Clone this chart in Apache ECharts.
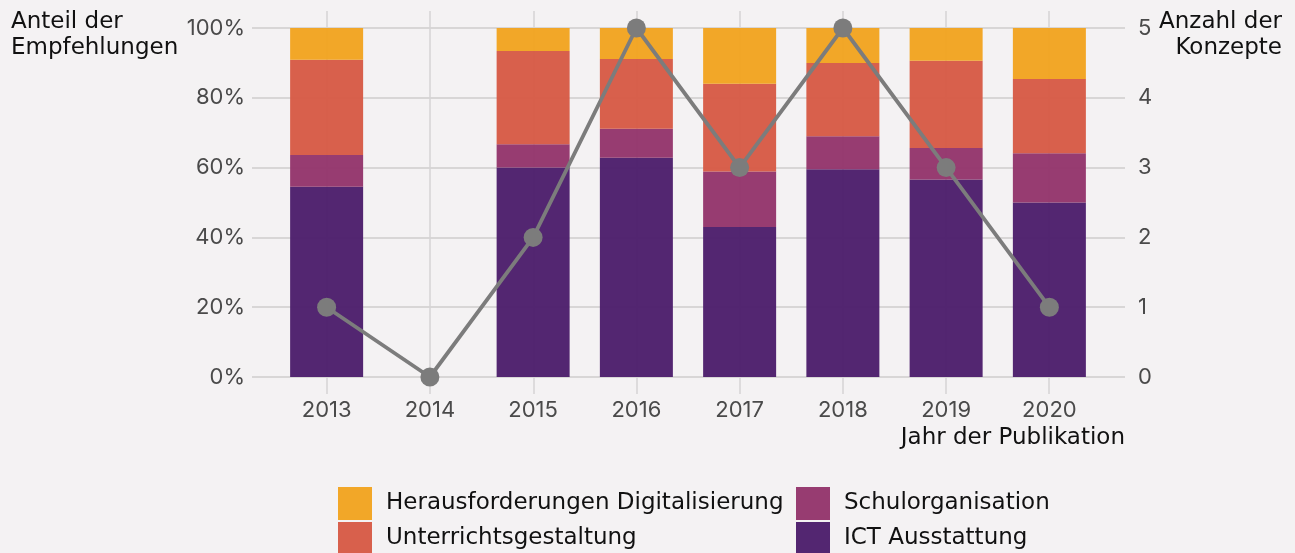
<!DOCTYPE html>
<html><head><meta charset="utf-8">
<script src="https://cdn.jsdelivr.net/npm/echarts@6/dist/echarts.min.js"></script>
<style>html,body{margin:0;padding:0;background:#F4F2F3}#c{width:1295px;height:553px}</style>
</head><body><div id="c"></div>
<script>
const years = ['2013', '2014', '2015', '2016', '2017', '2018', '2019', '2020'];
const ictAusstattung = [54.5, 0, 60, 62.8, 43, 59.5, 56.6, 50];
const schulorganisation = [9.1, 0, 6.7, 8.3, 15.9, 9.5, 9.0, 14.1];
const unterrichtsgestaltung = [27.3, 0, 26.7, 20, 25.1, 21, 25.0, 21.3];
const herausforderungen = [9.1, 0, 6.6, 8.9, 16, 10, 9.4, 14.6];
const anzahlKonzepte = [1, 0, 2, 5, 3, 5, 3, 1];

const NUMFONT = 'Inter';
const TXTFONT = 'DejaVu Sans';
const TICK = '#4a4a4a';
const GRIDC = '#cfcccd';

const chart = echarts.init(document.getElementById('c'), null, {renderer: 'canvas'});
const barBase = {type: 'bar', xAxisIndex: 1, yAxisIndex: 2, stack: 'a', barWidth: 73};
const legendBase = {orient: 'vertical', top: 487, height: 90, padding: 0, itemWidth: 34, itemHeight: 33,
  itemGap: 2, icon: 'rect', textStyle: {fontSize: 23, color: '#111', padding: [0, 0, 0, 9], fontFamily: TXTFONT}};
const titleStyle = {fontSize: 23, fill: '#111', fontFamily: TXTFONT};
chart.setOption({
  backgroundColor: '#F4F2F3',
  animation: false,
  textStyle: {fontFamily: NUMFONT},
  grid: [
    {left: 252, right: 170, top: 28, bottom: 176},
    {left: 275, right: 194, top: 28, bottom: 176},
    {left: 327, right: 246, top: 11, bottom: 159}
  ],
  xAxis: [
    {gridIndex: 0, type: 'category', data: years, show: false},
    {gridIndex: 1, type: 'category', data: years,
      axisLine: {show: false}, axisTick: {show: false}, splitLine: {show: false},
      axisLabel: {fontSize: 22, color: TICK, margin: 22, fontFamily: NUMFONT}},
    {gridIndex: 2, type: 'category', data: years, boundaryGap: false,
      axisLine: {show: false}, axisTick: {show: false}, axisLabel: {show: false},
      splitLine: {show: true, lineStyle: {color: '#d6d3d4', width: 1.5}}}
  ],
  yAxis: [
    {gridIndex: 0, type: 'value', min: 0, max: 100, interval: 20, position: 'left',
      axisLine: {show: false}, axisTick: {show: false},
      axisLabel: {formatter: '{value}%', fontSize: 22, color: TICK, margin: 7, fontFamily: NUMFONT},
      splitLine: {show: true, lineStyle: {color: GRIDC, width: 1.5}}},
    {gridIndex: 0, type: 'value', min: 0, max: 5, interval: 1, position: 'right',
      axisLine: {show: false}, axisTick: {show: false},
      axisLabel: {fontSize: 22, color: TICK, margin: 13, fontFamily: NUMFONT},
      splitLine: {show: false}},
    {gridIndex: 1, type: 'value', min: 0, max: 100, show: false},
    {gridIndex: 1, type: 'value', min: 0, max: 5, show: false, position: 'right'},
    {gridIndex: 2, type: 'value', show: false}
  ],
  legend: [
    Object.assign({}, legendBase, {data: ['Herausforderungen Digitalisierung', 'Unterrichtsgestaltung'], left: 338}),
    Object.assign({}, legendBase, {data: ['Schulorganisation', 'ICT Ausstattung'], left: 796})
  ],
  graphic: [
    {type: 'text', left: 11, top: 11, style: Object.assign({text: 'Anteil der'}, titleStyle)},
    {type: 'text', left: 11, top: 37, style: Object.assign({text: 'Empfehlungen'}, titleStyle)},
    {type: 'text', right: 13, top: 11, style: Object.assign({text: 'Anzahl der'}, titleStyle)},
    {type: 'text', right: 13, top: 37, style: Object.assign({text: 'Konzepte'}, titleStyle)},
    {type: 'text', right: 170, top: 427, style: Object.assign({text: 'Jahr der Publikation'}, titleStyle)}
  ],
  series: [
    Object.assign({}, barBase, {name: 'ICT Ausstattung', data: ictAusstattung, itemStyle: {color: '#4C1D6B', opacity: 0.96}}),
    Object.assign({}, barBase, {name: 'Schulorganisation', data: schulorganisation, itemStyle: {color: '#93346B', opacity: 0.96}}),
    Object.assign({}, barBase, {name: 'Unterrichtsgestaltung', data: unterrichtsgestaltung, itemStyle: {color: '#D65A45', opacity: 0.96}}),
    Object.assign({}, barBase, {name: 'Herausforderungen Digitalisierung', data: herausforderungen, itemStyle: {color: '#F1A31F', opacity: 0.96}}),
    {type: 'line', xAxisIndex: 1, yAxisIndex: 3, data: anzahlKonzepte, z: 5,
      symbol: 'circle', symbolSize: 19,
      lineStyle: {color: '#7c7c7c', width: 3.8}, itemStyle: {color: '#7c7c7c'}}
  ]
});
</script></body></html>
